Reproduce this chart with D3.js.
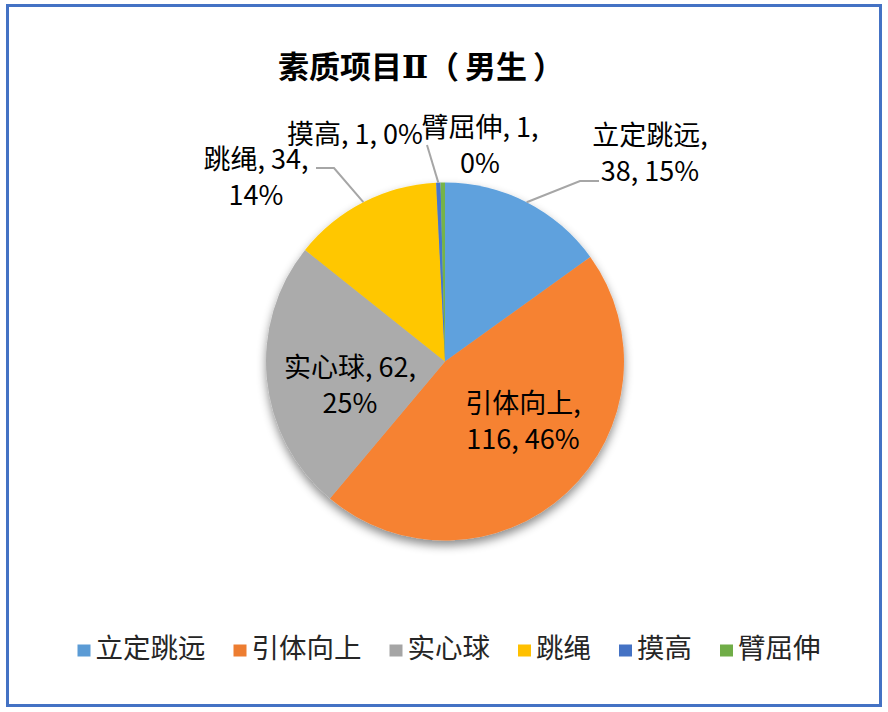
<!DOCTYPE html>
<html><head><meta charset="utf-8">
<script src="https://cdn.jsdelivr.net/npm/d3@7"></script>
<style>body{margin:0;background:#fff}svg{display:block}</style>
</head><body><svg id="c" width="888" height="712"></svg>
<script>
// ---- data ----
const titleMain = "素质项目";
const titleNumeral = "Ⅱ";
const titleTail = ["（", "男生", "）"];
const categories = ["立定跳远", "引体向上", "实心球", "跳绳", "摸高", "臂屈伸"];
const values = [38, 116, 62, 34, 1, 1];
const percentLabels = ["15%", "46%", "25%", "14%", "0%", "0%"];

// ---- layout / style (not data) ----
const colors = ["#5B9BD5", "#ED7D31", "#A5A5A5", "#FFC000", "#4472C4", "#70AD47"];
const firstLineParts = [1, 1, 2, 2, 3, 2];
const labelCenters = [[650, 153], [523, 421], [350, 385], [256, 177], [355, 134], [480, 145]];
const leaderBends = [[[580, 181], [599, 181]], null, null, [[334, 168], [316, 168]], [[427, 145]], null];
const W = 888, H = 712, cx = 445, cy = 361.5, R = 179;
const labelFont = "'Noto Sans CJK SC', 'Noto Sans', sans-serif";

const svg = d3.select("#c");
const defs = svg.append("defs");

// border
svg.append("rect").attr("x", 7.5).attr("y", 5.5).attr("width", 873).attr("height", 700)
  .attr("fill", "#fff").attr("stroke", "#4472C4").attr("stroke-width", 3);

// title
const tt = svg.append("text").attr("x", 421).attr("y", 78).attr("text-anchor", "middle")
  .attr("font-family", labelFont).attr("font-weight", 700).attr("font-size", 31)
  .attr("fill", "#000");
tt.append("tspan").text(titleMain);
tt.append("tspan").attr("font-family", "'DejaVu Serif', 'Liberation Serif', serif").attr("font-weight", 700).text(titleNumeral);
tt.append("tspan").attr("dx", 0).text(titleTail[0]);
tt.append("tspan").attr("dx", 6).text(titleTail[1]);
tt.append("tspan").attr("dx", 6).text(titleTail[2]);

// shadow filter
const f = defs.append("filter").attr("id", "sh").attr("x", "-20%").attr("y", "-20%").attr("width", "140%").attr("height", "140%");
f.append("feDropShadow").attr("dx", 0).attr("dy", 5).attr("stdDeviation", 5)
  .attr("flood-color", "#000").attr("flood-opacity", 0.45);

// gradients
colors.forEach((c, i) => {
  const g = defs.append("linearGradient").attr("id", "g" + i)
    .attr("gradientUnits", "userSpaceOnUse")
    .attr("x1", cx).attr("y1", cy - R).attr("x2", cx).attr("y2", cy + R);
  g.append("stop").attr("offset", 0).attr("stop-color", d3.color(c).brighter(0.1));
  g.append("stop").attr("offset", 0.5).attr("stop-color", c);
  g.append("stop").attr("offset", 1).attr("stop-color", d3.color(c).darker(0.2));
});

const pie = d3.pie().sort(null).value(d => d.v);
const data = categories.map((c, i) => ({ c, v: values[i], p: percentLabels[i], i }));
const arcs = pie(data);
const arc = d3.arc().innerRadius(0).outerRadius(R);

const gPie = svg.append("g").attr("transform", `translate(${cx},${cy})`).attr("filter", "url(#sh)");
gPie.selectAll("path").data(arcs).join("path")
  .attr("d", arc).attr("fill", d => `url(#g${d.index})`);

// leader lines
arcs.forEach((a, i) => {
  if (!leaderBends[i]) return;
  const mid = (a.startAngle + a.endAngle) / 2;
  const start = [cx + R * Math.sin(mid), cy - R * Math.cos(mid)];
  const pts = [start].concat(leaderBends[i]);
  svg.append("path").attr("d", d3.line()(pts)).attr("fill", "none")
    .attr("stroke", "#A6A6A6").attr("stroke-width", 2);
});

// data labels
arcs.forEach((a, i) => {
  const d = a.data;
  const parts = [d.c, String(d.v), d.p];
  const n = firstLineParts[i];
  const lines = [parts.slice(0, n).join(", ") + (n < 3 ? "," : "")];
  if (n < 3) lines.push(parts.slice(n).join(", "));
  const [lx, ly] = labelCenters[i];
  const lh = 36;
  const t = svg.append("text").attr("text-anchor", "middle")
    .attr("font-family", labelFont).attr("font-size", 27).attr("fill", "#000");
  lines.forEach((ln, k) => {
    t.append("tspan").attr("x", lx)
      .attr("y", ly + (k - (lines.length - 1) / 2) * lh)
      .attr("dy", "0.36em").text(ln);
  });
});

// legend
const lg = svg.append("g");
let x = 0;
const sq = 13, txtOff = 18, gap = 28;
categories.forEach((c, i) => {
  const it = lg.append("g");
  it.append("rect").attr("x", x).attr("y", -3.5).attr("width", sq).attr("height", sq - 1).attr("fill", colors[i]);
  const tx = it.append("text").attr("x", x + txtOff).attr("y", 0).attr("dy", "0.36em")
    .attr("font-family", labelFont).attr("font-size", 27.5).attr("fill", "#262626").text(c);
  x += txtOff + tx.node().getComputedTextLength() + gap;
});
const totalW = x - gap;
lg.attr("transform", `translate(${449 - totalW / 2},${648})`);
</script></body></html>
